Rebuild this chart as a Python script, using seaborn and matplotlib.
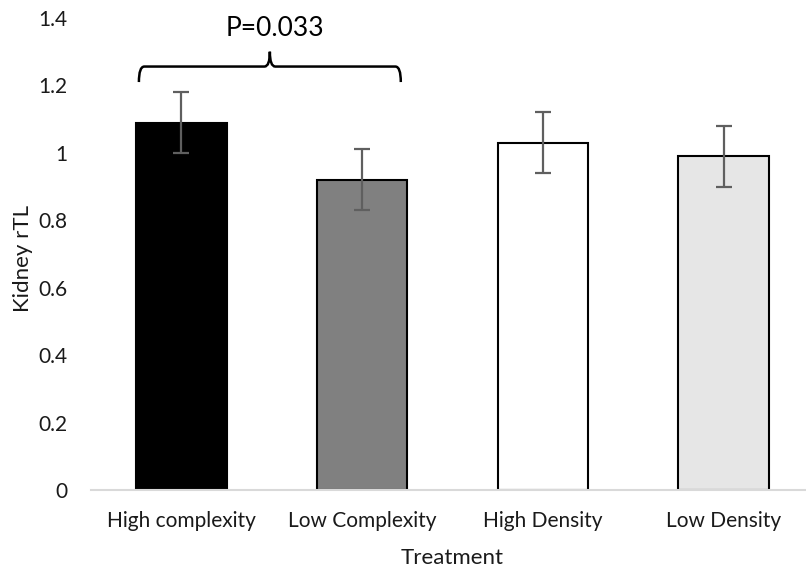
import matplotlib
matplotlib.use("Agg")
import matplotlib.pyplot as plt
import seaborn as sns
import pandas as pd
from matplotlib.path import Path
from matplotlib.patches import PathPatch

categories = ["High complexity", "Low Complexity", "High Density", "Low Density"]
values = [1.09, 0.92, 1.03, 0.99]
errors = [0.09, 0.09, 0.09, 0.09]
bar_colors = ["#000000", "#808080", "#ffffff", "#e6e6e6"]
y_ticks = [0, 0.2, 0.4, 0.6, 0.8, 1.0, 1.2, 1.4]
y_tick_labels = ["0", "0.2", "0.4", "0.6", "0.8", "1", "1.2", "1.4"]
p_label = "P=0.033"

sns.set_theme(style="white")
plt.rcParams["font.family"] = ["Lato", "DejaVu Sans"]

df = pd.DataFrame({"Treatment": categories, "rTL": values})

fig = plt.figure(figsize=(8.06, 5.73), dpi=100)
ax = fig.add_axes([91 / 806, 83 / 573, 723 / 806, 472 / 573])

sns.barplot(data=df, x="Treatment", y="rTL", hue="Treatment", palette=bar_colors,
            order=categories, hue_order=categories, legend=False, width=0.5,
            edgecolor="black", linewidth=1.5, saturation=1, ax=ax, errorbar=None)

ax.errorbar(range(len(categories)), values, yerr=errors, fmt="none",
            ecolor="#5f5f5f", elinewidth=1.6, capsize=6, capthick=1.6, zorder=5)

ax.set_ylim(0, 1.4)
ax.set_xlim(-0.5, 3.5)
ax.set_yticks(y_ticks)
ax.set_yticklabels(y_tick_labels)
ax.tick_params(axis="both", length=0, labelsize=15, colors="#1a1a1a")
ax.tick_params(axis="y", pad=17)
ax.tick_params(axis="x", pad=15)
for s in ["top", "right", "left"]:
    ax.spines[s].set_visible(False)
ax.spines["bottom"].set_color("#d9d9d9")
ax.spines["bottom"].set_linewidth(1.5)
ax.set_xlabel("Treatment", fontsize=16, color="#1a1a1a")
ax.set_ylabel("Kidney rTL", fontsize=16, color="#1a1a1a")
ax.xaxis.set_label_coords(0.5, -68 / 472)
ax.xaxis.label.set_va("center")
ax.yaxis.set_label_coords(-68 / 723, 0.49)
ax.yaxis.label.set_va("center")

# curly brace between first two bars
x0, x1 = -0.235, 1.214
xc = (x0 + x1) / 2
yb, ym, yt = 1.21, 1.256, 1.30
dx = 0.03
verts = [
    (x0, yb), (x0, ym), (x0 + dx, ym),
    (xc - dx, ym), (xc, ym), (xc, yt),
    (xc, ym), (xc + dx, ym),
    (x1 - dx, ym), (x1, ym), (x1, yb),
]
codes = [Path.MOVETO, Path.CURVE3, Path.CURVE3,
         Path.LINETO, Path.CURVE3, Path.CURVE3,
         Path.CURVE3, Path.CURVE3,
         Path.LINETO, Path.CURVE3, Path.CURVE3]
ax.add_patch(PathPatch(Path(verts, codes), fill=False, edgecolor="black",
                       linewidth=1.8, clip_on=False, zorder=6))
ax.text(0.517, 1.368, p_label, ha="center", va="center", fontsize=19, color="black")

fig.savefig("out.png", dpi=100)
